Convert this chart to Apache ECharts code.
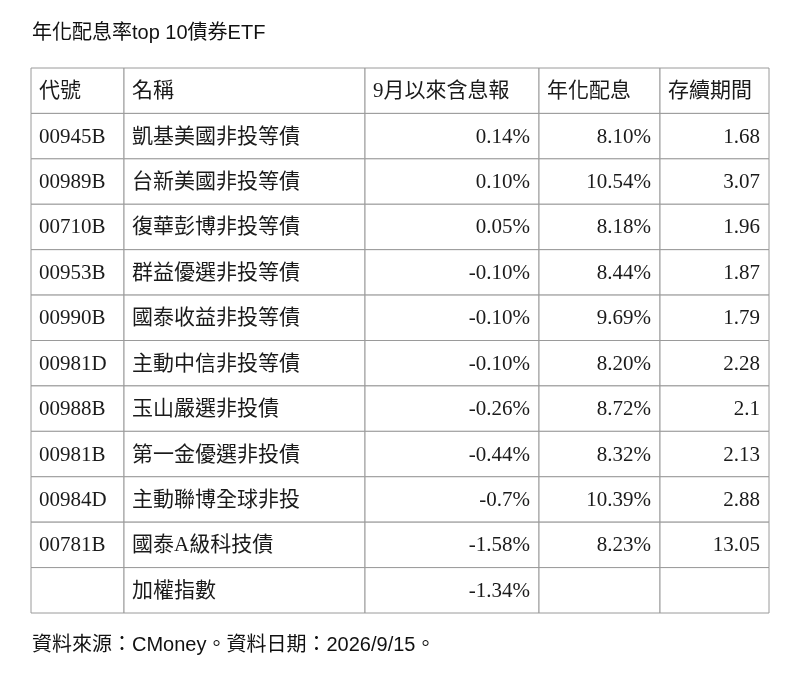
<!DOCTYPE html>
<html>
<head>
<meta charset="utf-8">
<title>年化配息率top 10債券ETF</title>
<script src="https://cdn.jsdelivr.net/npm/echarts@6/dist/echarts.min.js"></script>
<style>
  html, body { margin: 0; padding: 0; background: #fff; }
  #container { width: 800px; height: 692px; }
</style>
</head>
<body>
<div id="container"></div>
<script type="text/javascript">
// table content
var headers = ['代號', '名稱', '9月以來含息報', '年化配息', '存續期間'];
var codes = ['00945B', '00989B', '00710B', '00953B', '00990B', '00981D', '00988B', '00981B', '00984D', '00781B', ''];
var names = ['凱基美國非投等債', '台新美國非投等債', '復華彭博非投等債', '群益優選非投等債', '國泰收益非投等債',
  '主動中信非投等債', '玉山嚴選非投債', '第一金優選非投債', '主動聯博全球非投', '國泰A級科技債', '加權指數'];
var sepReturn = ['0.14%', '0.10%', '0.05%', '-0.10%', '-0.10%', '-0.10%', '-0.26%', '-0.44%', '-0.7%', '-1.58%', '-1.34%'];
var annualYield = ['8.10%', '10.54%', '8.18%', '8.44%', '9.69%', '8.20%', '8.72%', '8.32%', '10.39%', '8.23%', ''];
var duration = ['1.68', '3.07', '1.96', '1.87', '1.79', '2.28', '2.1', '2.13', '2.88', '13.05', ''];

// layout: column edges in pixels from the table's left edge
var colEdges = [0, 93, 334, 508, 629, 738];
var colAlign = ['left', 'left', 'right', 'right', 'right'];

var rowNames = ['h'];
for (var i = 0; i < codes.length; i++) rowNames.push('r' + i);

var cells = [];
headers.forEach(function (h, c) { cells.push([c, 0, h, 1]); });
var columns = [codes, names, sepReturn, annualYield, duration];
for (var r = 0; r < codes.length; r++) {
  for (var c = 0; c < columns.length; c++) {
    cells.push([c, r + 1, columns[c][r], 0]);
  }
}

var myChart = echarts.init(document.getElementById('container'));

function renderCell(params, api) {
  var c = api.value(0), r = api.value(1);
  var text = cells[params.dataIndex][2];
  var isHead = cells[params.dataIndex][3] === 1;
  var p0 = api.coord([colEdges[c], rowNames[r]]);
  var p1 = api.coord([colEdges[c + 1], rowNames[r]]);
  var h = api.size([0, 1])[1];
  var x0 = p0[0], x1 = p1[0], y0 = p0[1] - h / 2;
  var align = isHead ? 'left' : colAlign[c];
  var tx = align === 'left' ? x0 + 8 : x1 - 9;
  return {
    type: 'group',
    children: [{
      type: 'rect',
      shape: { x: x0, y: y0, width: x1 - x0, height: h },
      style: { fill: '#fff', stroke: '#9a9a9a', lineWidth: 1 }
    }, {
      type: 'text',
      style: {
        x: tx, y: p0[1] + 1,
        text: text,
        align: align,
        verticalAlign: 'middle',
        fill: '#1a1a1a',
        font: '21px "Liberation Serif", "Noto Sans CJK TC"'
      }
    }]
  };
}

var option = {
  animation: false,
  backgroundColor: '#fff',
  title: [{
    text: '年化配息率top 10債券ETF',
    left: 27, top: 18,
    textStyle: { fontSize: 20, fontWeight: 'normal', color: '#111', fontFamily: '"Liberation Sans", "Noto Sans CJK TC"' }
  }, {
    text: '資料來源：CMoney。資料日期：2026/9/15。',
    left: 27, top: 630,
    textStyle: { fontSize: 20, fontWeight: 'normal', color: '#111', fontFamily: '"Liberation Sans", "Noto Sans CJK TC"' }
  }],
  grid: { left: 31, right: 31, top: 68, bottom: 79 },
  xAxis: { type: 'value', min: 0, max: 738, show: false },
  yAxis: { type: 'category', data: rowNames, inverse: true, show: false },
  series: [{
    type: 'custom',
    renderItem: renderCell,
    encode: { x: 0, y: 1 },
    data: cells.map(function (d) { return [d[0], d[1]]; })
  }]
};

myChart.setOption(option);
</script>
</body>
</html>
